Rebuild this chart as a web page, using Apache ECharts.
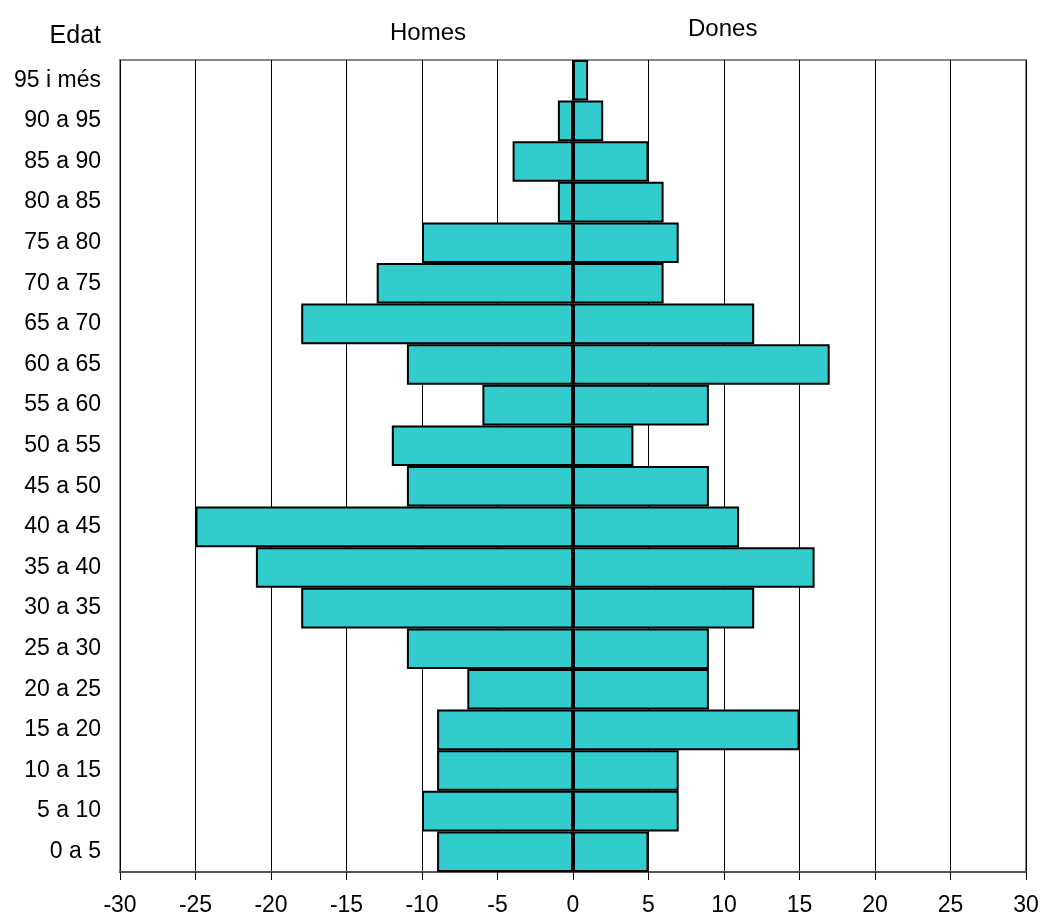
<!DOCTYPE html>
<html>
<head>
<meta charset="utf-8">
<script src="https://cdn.jsdelivr.net/npm/echarts@6/dist/echarts.min.js"></script>
<style>
html,body{margin:0;padding:0;background:#fff;}
#chart{width:1042px;height:918px;}
</style>
</head>
<body>
<div id="chart"></div>
<script>
const categories = ['0 a 5','5 a 10','10 a 15','15 a 20','20 a 25','25 a 30','30 a 35','35 a 40','40 a 45','45 a 50','50 a 55','55 a 60','60 a 65','65 a 70','70 a 75','75 a 80','80 a 85','85 a 90','90 a 95','95 i més'];
const homes = [-9,-10,-9,-9,-7,-11,-18,-21,-25,-11,-12,-6,-11,-18,-13,-10,-1,-4,-1,0];
const dones = [5,7,7,15,9,9,12,16,11,9,4,9,17,12,6,7,6,5,2,1];
const xTicks = {min:-30, max:30, step:5};

const FONT = 'Liberation Sans, Arial, sans-serif';
const chart = echarts.init(document.getElementById('chart'));
const barStyle = {color:'#33CCCC', borderColor:'#000', borderWidth:2};
chart.setOption({
  animation:false,
  backgroundColor:'#fff',
  grid:{left:120, right:16, top:60, bottom:46, show:true, borderColor:'#888', borderWidth:2, backgroundColor:'transparent'},
  xAxis:{
    type:'value', min:xTicks.min, max:xTicks.max, interval:xTicks.step,
    axisLine:{show:true, onZero:false, lineStyle:{color:'#555', width:2}},
    axisTick:{show:true, length:8, lineStyle:{color:'#000'}},
    axisLabel:{color:'#000', fontSize:23, fontFamily:FONT, margin:22},
    splitLine:{show:true, lineStyle:{color:'#000', width:1}}
  },
  yAxis:{
    type:'category', data:categories,
    axisLine:{show:true, lineStyle:{color:'#888', width:2}},
    axisTick:{show:false},
    axisLabel:{color:'#000', fontSize:23, fontFamily:FONT, margin:19},
    splitLine:{show:false}
  },
  series:[
    {name:'Homes', type:'bar', data:homes, barGap:'-100%', barCategoryGap:0, itemStyle:barStyle},
    {name:'Dones', type:'bar', data:dones, barGap:'-100%', barCategoryGap:0, itemStyle:barStyle}
  ],
  graphic:[
    {type:'text', right:941, top:24, style:{text:'Edat', font:'25px '+FONT, fill:'#000', textAlign:'right'}},
    {type:'text', left:390, top:21, style:{text:'Homes', font:'24px '+FONT, fill:'#000'}},
    {type:'text', left:688, top:17, style:{text:'Dones', font:'24px '+FONT, fill:'#000'}}
  ]
});
</script>
</body>
</html>
